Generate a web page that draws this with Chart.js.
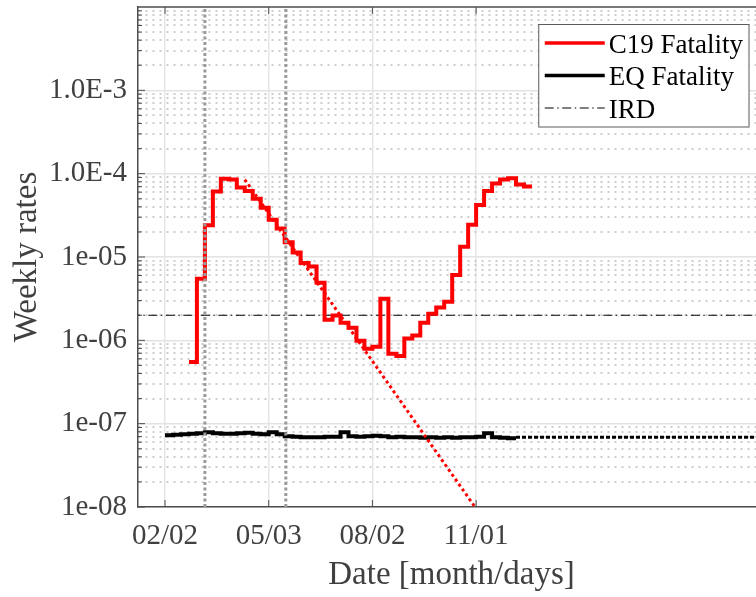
<!DOCTYPE html>
<html>
<head>
<meta charset="utf-8">
<script src="https://cdn.jsdelivr.net/npm/chart.js@4/dist/chart.umd.min.js"></script>
<style>
  html, body { margin: 0; padding: 0; overflow: hidden; background: #fff; }
  #wrap { position: relative; width: 765px; height: 597px; }
</style>
</head>
<body>
<div id="wrap"><canvas id="chart"></canvas></div>
<script>
// --- data (x = days since 02/02) ---
const c19Days = [21, 28, 35, 42, 49, 56, 63, 70, 77, 84, 91, 98, 105, 112, 119, 126, 133, 140, 147, 154,
  161, 168, 175, 182, 189, 196, 203, 210, 217, 224, 231, 238, 245, 252, 259, 266, 273, 280, 287, 294,
  301, 308, 315, 322];
const c19Rates = [5.5e-7, 5.5e-6, 2.4e-5, 6.1e-5, 8.7e-5, 8.5e-5, 6.8e-5, 6.2e-5, 5.0e-5, 3.9e-5,
  2.8e-5, 2.2e-5, 1.5e-5, 1.13e-5, 8.5e-6, 7.7e-6, 4.9e-6, 1.77e-6, 1.98e-6, 1.63e-6,
  1.42e-6, 9.9e-7, 7.9e-7, 8.4e-7, 3.16e-6, 6.9e-7, 6.5e-7, 1.05e-6, 1.14e-6, 1.63e-6,
  2.09e-6, 2.47e-6, 2.9e-6, 6.1e-6, 1.33e-5, 2.44e-5, 4.2e-5, 6.2e-5, 7.6e-5, 8.5e-5,
  8.8e-5, 7.4e-5, 7.0e-5, 7.0e-5];

const eqDays = [0, 7, 14, 21, 28, 35, 42, 49, 56, 63, 70, 77, 84, 91, 98, 105, 112, 119, 126, 133,
  140, 147, 154, 161, 168, 175, 182, 189, 196, 203, 210, 217, 224, 231, 238, 245, 252, 259, 266, 273,
  280, 287, 294, 301, 308];
const eqRates = [7.24e-8, 7.34e-8, 7.44e-8, 7.55e-8, 7.65e-8, 7.87e-8, 7.65e-8, 7.55e-8, 7.55e-8, 7.65e-8,
  7.76e-8, 7.55e-8, 7.44e-8, 7.87e-8, 7.44e-8, 7.05e-8, 6.95e-8, 6.85e-8, 6.85e-8, 6.85e-8,
  6.95e-8, 6.95e-8, 7.87e-8, 7.05e-8, 6.95e-8, 7.05e-8, 7.14e-8, 7.05e-8, 6.85e-8, 6.95e-8,
  6.85e-8, 6.85e-8, 6.76e-8, 6.85e-8, 6.76e-8, 6.85e-8, 6.76e-8, 6.85e-8, 6.85e-8, 6.95e-8,
  7.65e-8, 6.85e-8, 6.76e-8, 6.67e-8, 6.67e-8];

const eqProjDays = [308, 530];
const eqProjRates = [6.85e-8, 6.85e-8];

const trendDays = [70, 272];
const trendRates = [8.5e-5, 1e-8];

const irdDays = [-30, 530];
const irdRates = [2e-6, 2e-6];

const markerDays = [35, 106];   // vertical gray dotted lines

const xTickDays = [0, 91, 182, 273];
const xTickLabels = ['02/02', '05/03', '08/02', '11/01'];
const yDecades = [1e-8, 1e-7, 1e-6, 1e-5, 1e-4, 1e-3, 1e-2];
const yTickLabels = ['1e-08', '1e-07', '1e-06', '1e-05', '1.0E-4', '1.0E-3', null];
const legendLabels = ['C19 Fatality', 'EQ Fatality', 'IRD'];

const xMin = -23.7, xMax = 526.5;
const serif = '"Liberation Serif", "Times New Roman", serif';

// --- helpers ---
const pts = (xs, ys) => xs.map((x, i) => ({ x: x, y: ys[i] }));
const isDecade = v => v != null && Math.abs(Math.log10(v) - Math.round(Math.log10(v))) < 1e-6;

const datasets = [];
markerDays.forEach((d, i) => {
  datasets.push({
    label: 'marker' + i,
    data: pts([d, d], [yDecades[0], yDecades[yDecades.length - 1]]),
    borderColor: '#9a9a9a', borderWidth: 3, borderDash: [3, 2.5], pointRadius: 0
  });
});
datasets.push({ label: 'C19 trend', data: pts(trendDays, trendRates),
  borderColor: '#ff0000', borderWidth: 3, borderDash: [3, 3], pointRadius: 0 });
datasets.push({ label: 'C19 Fatality', data: pts(c19Days, c19Rates), stepped: true,
  borderColor: '#ff0000', borderWidth: 4, pointRadius: 0 });
datasets.push({ label: 'EQ projection', data: pts(eqProjDays, eqProjRates),
  borderColor: '#000000', borderWidth: 3, borderDash: [4, 2], pointRadius: 0 });
datasets.push({ label: 'EQ Fatality', data: pts(eqDays, eqRates), stepped: true,
  borderColor: '#000000', borderWidth: 4, pointRadius: 0 });
datasets.push({ label: 'IRD', data: pts(irdDays, irdRates),
  borderColor: '#000000', borderWidth: 1.2, borderDash: [9, 3.5, 1.5, 3.5], pointRadius: 0 });

// frame: top border + inward tick marks
const frame = {
  id: 'frame',
  afterDraw(chart) {
    const { ctx, chartArea: a, scales: { x, y } } = chart;
    ctx.save();
    ctx.strokeStyle = '#4d4d4d';
    ctx.lineWidth = 1.5;
    ctx.beginPath();
    ctx.moveTo(a.left, a.top);
    ctx.lineTo(a.right, a.top);
    ctx.stroke();
    ctx.lineWidth = 1;
    y.ticks.forEach(t => {
      const py = y.getPixelForValue(t.value);
      const len = isDecade(t.value) ? 7 : 4;
      ctx.beginPath();
      ctx.moveTo(a.left, py);
      ctx.lineTo(a.left + len, py);
      ctx.stroke();
    });
    x.ticks.forEach(t => {
      const px = x.getPixelForValue(t.value);
      ctx.beginPath();
      ctx.moveTo(px, a.bottom);
      ctx.lineTo(px, a.bottom - 7);
      ctx.moveTo(px, a.top);
      ctx.lineTo(px, a.top + 7);
      ctx.stroke();
    });
    ctx.restore();
  }
};

// legend box inside the plot, top right
const legendBox = {
  id: 'legendBox',
  afterDraw(chart) {
    const { ctx, chartArea: a } = chart;
    const items = legendLabels.map(l => chart.data.datasets.find(d => d.label === l));
    ctx.save();
    ctx.font = '27px ' + serif;
    const textW = Math.max(...items.map(d => ctx.measureText(d.label).width));
    const w = 6 + 60 + 4 + textW + 6;
    const right = a.right - 16;
    const left = right - w;
    const top = a.top + 17.5;
    const h = 102.5;
    ctx.fillStyle = '#ffffff';
    ctx.fillRect(left, top, w, h);
    ctx.strokeStyle = '#5a5a5a';
    ctx.lineWidth = 1;
    ctx.strokeRect(left, top, w, h);
    items.forEach((d, i) => {
      const cy = top + 18.5 + i * 32.5;
      ctx.strokeStyle = d.borderColor;
      ctx.lineWidth = Math.min(d.borderWidth, 3.5);
      ctx.setLineDash(d.borderDash || []);
      ctx.beginPath();
      ctx.moveTo(left + 6, cy);
      ctx.lineTo(left + 66, cy);
      ctx.stroke();
      ctx.setLineDash([]);
      ctx.fillStyle = '#000000';
      ctx.textBaseline = 'alphabetic';
      ctx.textAlign = 'left';
      ctx.fillText(d.label, left + 70, cy + 9.5);
    });
    ctx.restore();
  }
};

const ctx = document.getElementById('chart').getContext('2d');
const chart = new Chart(ctx, {
  type: 'line',
  data: { datasets: datasets },
  options: {
    responsive: true,
    maintainAspectRatio: false,
    animation: false,
    devicePixelRatio: 1,
    layout: { padding: { top: 7, left: 0, right: 0, bottom: 0 } },
    plugins: { legend: { display: false }, tooltip: { enabled: false } },
    scales: {
      x: {
        type: 'linear',
        min: xMin,
        max: xMax,
        afterBuildTicks: s => { s.ticks = xTickDays.map(v => ({ value: v })); },
        afterFit: s => { s.height = 90; s.paddingLeft = 0; s.paddingRight = 0; },
        ticks: {
          autoSkip: false,
          maxRotation: 0,
          padding: 12,
          color: '#404040',
          font: { family: serif, size: 29 },
          callback: v => xTickLabels[xTickDays.indexOf(v)]
        },
        grid: { color: '#e6e6e6', lineWidth: 1.5, drawTicks: false },
        border: { color: '#4d4d4d', width: 1.5 },
        title: {
          display: true,
          text: 'Date [month/days]',
          color: '#404040',
          font: { family: serif, size: 33 },
          padding: { top: 0, bottom: 2 }
        }
      },
      y: {
        type: 'logarithmic',
        min: 1e-8,
        max: 1e-2,
        afterBuildTicks: s => {
          const t = [];
          for (let k = 0; k < yDecades.length - 1; k++) {
            for (let m = 1; m <= 9; m++) t.push({ value: m * yDecades[k] });
          }
          t.push({ value: yDecades[yDecades.length - 1] });
          s.ticks = t;
        },
        afterFit: s => { s.width = 138; s.paddingTop = 0; s.paddingBottom = 0; },
        ticks: {
          autoSkip: false,
          padding: 11,
          color: '#404040',
          font: { family: serif, size: 29 },
          callback: v => {
            if (!isDecade(v)) return '';
            return yTickLabels[Math.round(Math.log10(v)) + 8];
          }
        },
        grid: {
          drawTicks: false,
          color: c => (c.tick && !isDecade(c.tick.value)) ? '#cdcdcd' : '#e3e3e3',
          lineWidth: c => (c.tick && !isDecade(c.tick.value)) ? 2 : 1.5
        },
        border: {
          color: '#4d4d4d',
          width: 1.5,
          dash: c => (c.tick && !isDecade(c.tick.value)) ? [2, 5] : []
        },
        title: {
          display: true,
          text: 'Weekly rates',
          color: '#404040',
          font: { family: serif, size: 33 },
          padding: { top: 8, bottom: 0 }
        }
      }
    }
  },
  plugins: [frame, legendBox]
});
</script>
</body>
</html>
